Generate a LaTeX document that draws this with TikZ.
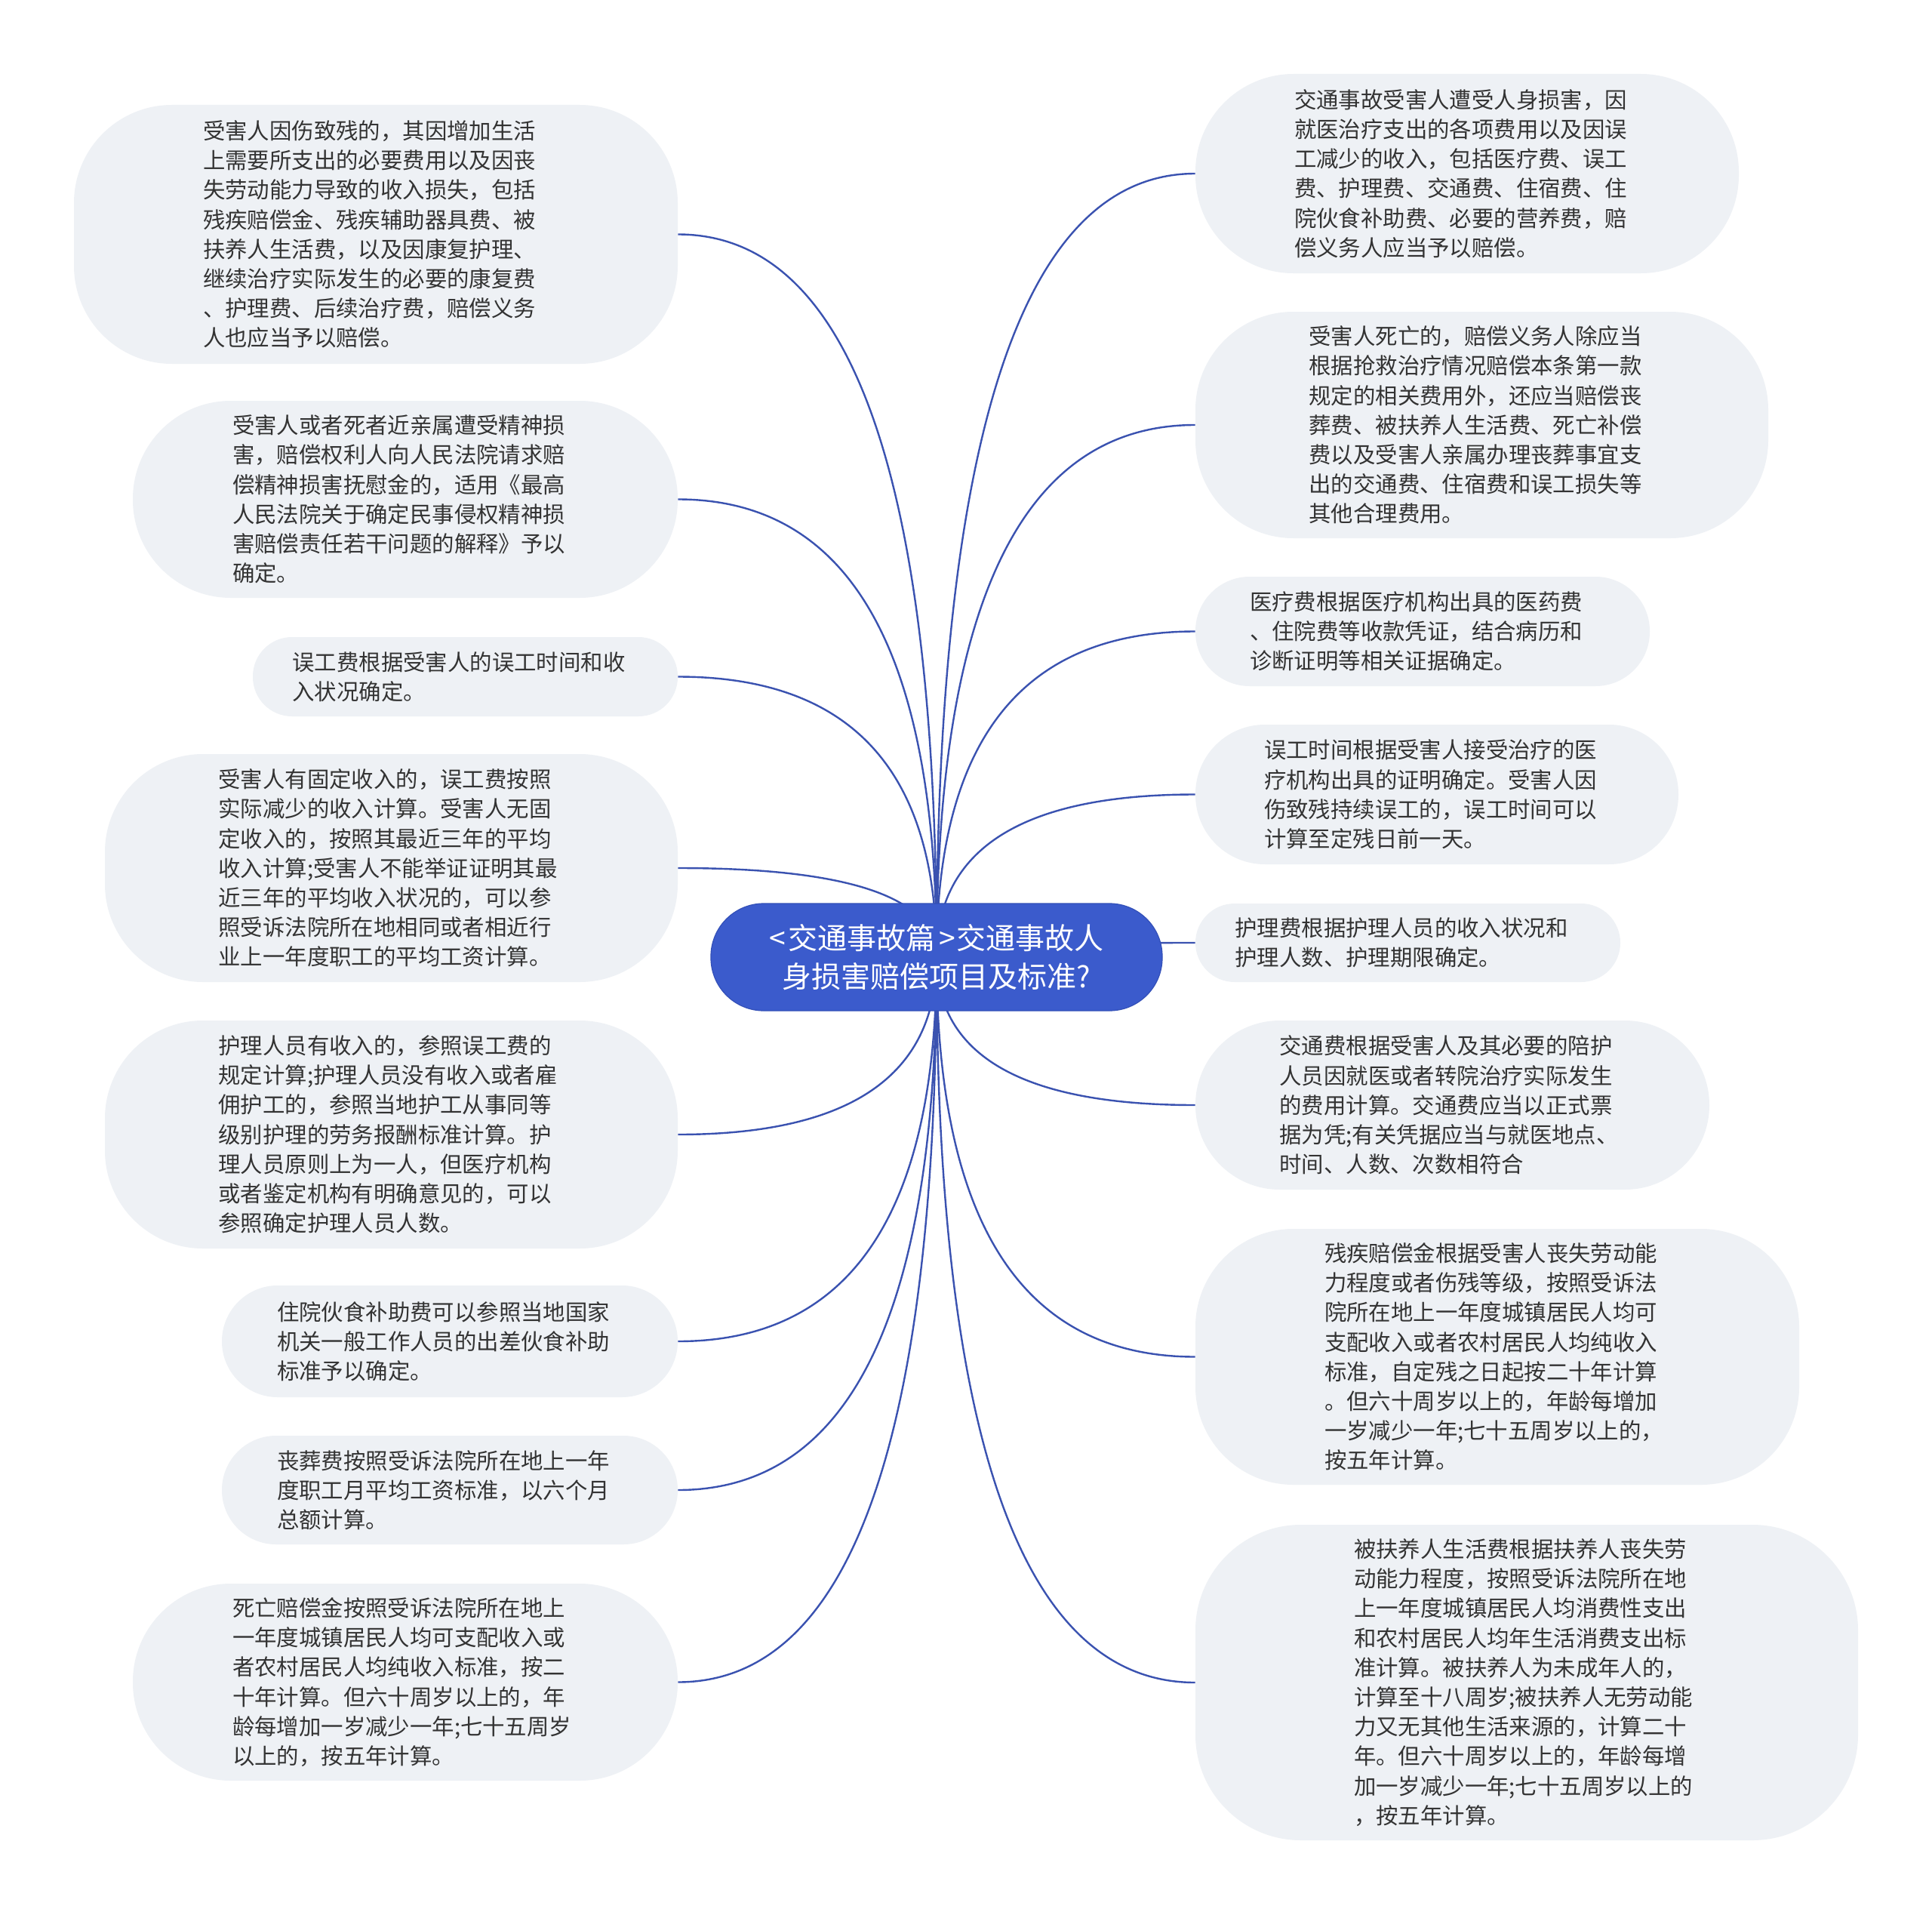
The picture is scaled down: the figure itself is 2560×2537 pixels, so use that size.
\documentclass[tikz,border=0pt]{standalone}
\usepackage{fontspec}
\setmainfont{Noto Sans CJK SC}
\usetikzlibrary{calc}
\definecolor{leaffill}{HTML}{EEF1F5}
\definecolor{hubfill}{HTML}{3B5BCC}
\definecolor{hubline}{HTML}{3350B8}
\definecolor{linkcol}{HTML}{3A52B0}
\definecolor{txt}{HTML}{333333}
\pgfdeclarelayer{back}
\pgfdeclarelayer{bg}
\pgfsetlayers{back,bg,main}
\tikzset{
  leaf/.style={fill=leaffill, draw=none, inner sep=0pt, text width=229pt, align=left,
    text=txt, font=\fontsize{14.7pt}{19.6pt}\selectfont},
  hub/.style={fill=hubfill, draw=hubline, line width=0.6pt, inner sep=0pt, text width=240pt,
    align=center, text=white, font=\fontsize{19.5pt}{25.3pt}\selectfont},
  conn/.style={draw=linkcol, line width=1.2pt}
}
\newcommand\linkto[1]{\draw[conn] (C.center) .. controls ($(C.center)!0.667!(C.center |- #1)$) and ($(#1)!0.667!(C.center |- #1)$) .. (#1);}
\begin{document}
\begin{tikzpicture}[x=0.5pt, y=-0.5pt]
\begin{pgfonlayer}{back}
\fill[white] (0,0) rectangle (2560,2537);
\end{pgfonlayer}
\useasboundingbox (0,0) rectangle (2560,2537);

\node[hub, minimum width=299pt, minimum height=71pt, rounded corners=35pt] (C) at (1241,1268)
 {<\hspace{2pt}交通事故篇\hspace{2pt}>\hspace{1pt}交通事故人\\身损害赔偿项目及标准?};

% left side
\node[leaf, minimum width=400pt, minimum height=171.5pt, rounded corners=65pt] (L1) at (498,310.5)
 {受害人因伤致残的，其因增加生活\\上需要所支出的必要费用以及因丧\\失劳动能力导致的收入损失，包括\\残疾赔偿金、残疾辅助器具费、被\\扶养人生活费，以及因康复护理、\\继续治疗实际发生的必要的康复费\\、护理费、后续治疗费，赔偿义务\\人也应当予以赔偿。};
\node[leaf, minimum width=361pt, minimum height=130.5pt, rounded corners=65pt] (L2) at (537,661.5)
 {受害人或者死者近亲属遭受精神损\\害，赔偿权利人向人民法院请求赔\\偿精神损害抚慰金的，适用《最高\\人民法院关于确定民事侵权精神损\\害赔偿责任若干问题的解释》予以\\确定。};
\node[leaf, minimum width=281.5pt, minimum height=52.5pt, rounded corners=26pt] (L3) at (616.5,896.5)
 {误工费根据受害人的误工时间和收\\入状况确定。};
\node[leaf, minimum width=379.5pt, minimum height=151pt, rounded corners=65pt] (L4) at (518.5,1150)
 {受害人有固定收入的，误工费按照\\实际减少的收入计算。受害人无固\\定收入的，按照其最近三年的平均\\收入计算;受害人不能举证证明其最\\近三年的平均收入状况的，可以参\\照受诉法院所在地相同或者相近行\\业上一年度职工的平均工资计算。};
\node[leaf, minimum width=379.5pt, minimum height=151pt, rounded corners=65pt] (L5) at (518.5,1503)
 {护理人员有收入的，参照误工费的\\规定计算;护理人员没有收入或者雇\\佣护工的，参照当地护工从事同等\\级别护理的劳务报酬标准计算。护\\理人员原则上为一人，但医疗机构\\或者鉴定机构有明确意见的，可以\\参照确定护理人员人数。};
\node[leaf, minimum width=302pt, minimum height=74pt, rounded corners=37pt] (L6) at (596,1777)
 {住院伙食补助费可以参照当地国家\\机关一般工作人员的出差伙食补助\\标准予以确定。};
\node[leaf, minimum width=302pt, minimum height=72pt, rounded corners=36pt] (L7) at (596,1974)
 {丧葬费按照受诉法院所在地上一年\\度职工月平均工资标准，以六个月\\总额计算。};
\node[leaf, minimum width=361pt, minimum height=130.5pt, rounded corners=65pt] (L8) at (537,2228.5)
 {死亡赔偿金按照受诉法院所在地上\\一年度城镇居民人均可支配收入或\\者农村居民人均纯收入标准，按二\\十年计算。但六十周岁以上的，年\\龄每增加一岁减少一年;七十五周岁\\以上的，按五年计算。};

% right side
\node[leaf, minimum width=360pt, minimum height=132pt, rounded corners=65pt] (R1) at (1944,230)
 {交通事故受害人遭受人身损害，因\\就医治疗支出的各项费用以及因误\\工减少的收入，包括医疗费、误工\\费、护理费、交通费、住宿费、住\\院伙食补助费、必要的营养费，赔\\偿义务人应当予以赔偿。};
\node[leaf, minimum width=379.5pt, minimum height=150pt, rounded corners=65pt] (R2) at (1963.5,563)
 {受害人死亡的，赔偿义务人除应当\\根据抢救治疗情况赔偿本条第一款\\规定的相关费用外，还应当赔偿丧\\葬费、被扶养人生活费、死亡补偿\\费以及受害人亲属办理丧葬事宜支\\出的交通费、住宿费和误工损失等\\其他合理费用。};
\node[leaf, minimum width=301pt, minimum height=72.5pt, rounded corners=36pt] (R3) at (1885,836.5)
 {医疗费根据医疗机构出具的医药费\\、住院费等收款凭证，结合病历和\\诊断证明等相关证据确定。};
\node[leaf, minimum width=320pt, minimum height=92.5pt, rounded corners=46pt] (R4) at (1904,1052.5)
 {误工时间根据受害人接受治疗的医\\疗机构出具的证明确定。受害人因\\伤致残持续误工的，误工时间可以\\计算至定残日前一天。};
\node[leaf, minimum width=281.5pt, minimum height=52pt, rounded corners=26pt] (R5) at (1865.5,1249)
 {护理费根据护理人员的收入状况和\\护理人数、护理期限确定。};
\node[leaf, minimum width=340.5pt, minimum height=112pt, rounded corners=56pt] (R6) at (1924.5,1464)
 {交通费根据受害人及其必要的陪护\\人员因就医或者转院治疗实际发生\\的费用计算。交通费应当以正式票\\据为凭;有关凭据应当与就医地点、\\时间、人数、次数相符合};
\node[leaf, minimum width=400pt, minimum height=169.5pt, rounded corners=65pt] (R7) at (1984,1797.5)
 {残疾赔偿金根据受害人丧失劳动能\\力程度或者伤残等级，按照受诉法\\院所在地上一年度城镇居民人均可\\支配收入或者农村居民人均纯收入\\标准，自定残之日起按二十年计算\\。但六十周岁以上的，年龄每增加\\一岁减少一年;七十五周岁以上的，\\按五年计算。};
\node[leaf, minimum width=439pt, minimum height=209pt, rounded corners=70pt] (R8) at (2023,2229)
 {被扶养人生活费根据扶养人丧失劳\\动能力程度，按照受诉法院所在地\\上一年度城镇居民人均消费性支出\\和农村居民人均年生活消费支出标\\准计算。被扶养人为未成年人的，\\计算至十八周岁;被扶养人无劳动能\\力又无其他生活来源的，计算二十\\年。但六十周岁以上的，年龄每增\\加一岁减少一年;七十五周岁以上的\\，按五年计算。};

\begin{pgfonlayer}{bg}
\linkto{L1.east}\linkto{L2.east}\linkto{L3.east}\linkto{L4.east}
\linkto{L5.east}\linkto{L6.east}\linkto{L7.east}\linkto{L8.east}
\linkto{R1.west}\linkto{R2.west}\linkto{R3.west}\linkto{R4.west}
\linkto{R5.west}\linkto{R6.west}\linkto{R7.west}\linkto{R8.west}
\end{pgfonlayer}
\end{tikzpicture}
\end{document}
